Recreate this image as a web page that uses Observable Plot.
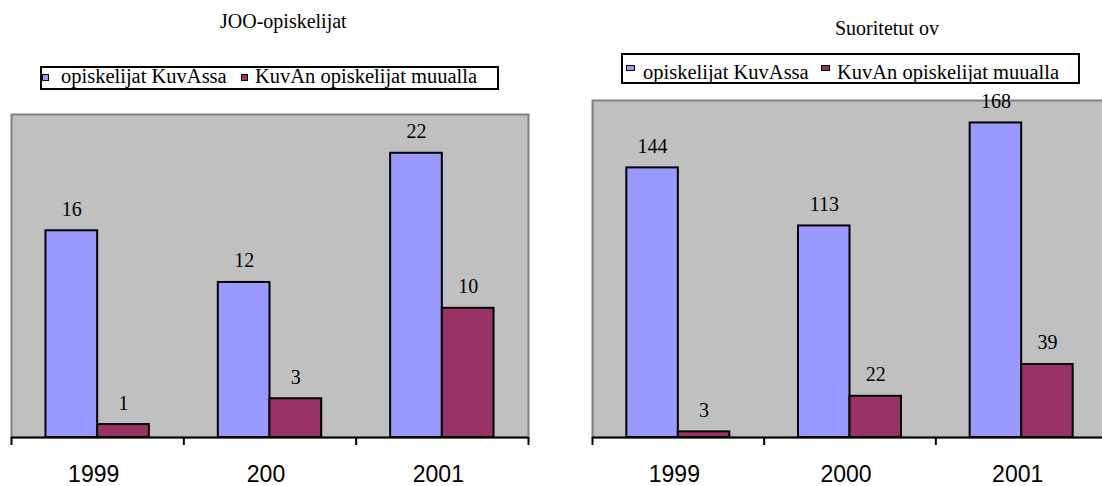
<!DOCTYPE html>
<html><head><meta charset="utf-8">
<script src="https://cdn.jsdelivr.net/npm/d3@7"></script>
<script src="https://cdn.jsdelivr.net/npm/@observablehq/plot@0.6"></script>
<style>
html,body{margin:0;padding:0;background:#fff;overflow:hidden;}
#root{position:relative;width:1102px;height:486px;overflow:hidden;font-family:"Liberation Serif","Times New Roman",serif;color:#000;}
.abs{position:absolute;white-space:nowrap;font-size:20px;line-height:20px;font-family:"Liberation Serif","Times New Roman",serif;}
.lg{font-size:20.5px;}
.box{position:absolute;box-sizing:border-box;border:2px solid #000;background:#fff;}
.mk{position:absolute;box-sizing:border-box;border:1px solid #000;}
.plotwrap{position:absolute;overflow:visible;}
.plotwrap svg{overflow:visible;max-width:none !important;display:block;}
</style></head><body><div id="root"></div>
<script>
const titles = ["JOO-opiskelijat", "Suoritetut ov"];
const seriesNames = ["opiskelijat KuvAssa", "KuvAn opiskelijat muualla"];
const seriesColors = ["#9999ff", "#993366"];
const years1 = ["1999", "200", "2001"];
const years2 = ["1999", "2000", "2001"];
const jooKuvassa = [16, 12, 22];
const jooMuualla = [1, 3, 10];
const ovKuvassa = [144, 113, 168];
const ovMuualla = [3, 22, 39];

const root = document.getElementById("root");

function el(cls, css, text) {
  const d = document.createElement("div");
  d.className = cls;
  Object.assign(d.style, css);
  if (text != null) d.textContent = text;
  root.appendChild(d);
  return d;
}

function rowsOf(years, a, b) {
  const rows = [];
  years.forEach((y, i) => {
    rows.push({i, year: y, j: 0, value: a[i]});
    rows.push({i, year: y, j: 1, value: b[i]});
  });
  return rows;
}

function chart(years, a, b, yMax, geo) {
  const rows = rowsOf(years, a, b);
  const n = years.length;
  const svg = Plot.plot({
    width: geo.width, height: geo.height,
    marginLeft: geo.ml, marginRight: geo.mr, marginTop: geo.mt, marginBottom: geo.mb,
    x: {type: "linear", domain: [0, n], axis: null},
    y: {domain: [0, yMax], axis: null},
    style: {background: "transparent", fontFamily: "Liberation Sans, Arial, sans-serif", fontSize: "23px", color: "#000", maxWidth: "none"},
    marks: [
      Plot.frame({fill: "#c0c0c0", stroke: "#808080", strokeWidth: 2}),
      Plot.rect(rows, {
        x1: d => d.i + 0.2 + 0.3 * d.j,
        x2: d => d.i + 0.5 + 0.3 * d.j,
        y1: 0, y2: "value",
        fill: d => seriesColors[d.j],
        stroke: "#000", strokeWidth: 2
      }),
      Plot.ruleY([0], {stroke: "#000", strokeWidth: 2}),
      Plot.axisX({ticks: d3.range(n + 1), tickSize: 8, tickFormat: () => "", stroke: "#000", strokeWidth: 2}),
      Plot.axisX({
        ticks: d3.range(n).map(i => i + 0.5), tickSize: 0, tickPadding: 28,
        tickFormat: d => years[Math.floor(d)],
        fontSize: 23, fontFamily: "Liberation Sans, Arial, sans-serif", fill: "#000", dx: -4
      }),
      Plot.text(rows, {
        x: d => d.i + 0.35 + 0.3 * d.j,
        y: "value",
        text: d => String(d.value),
        dy: -15, lineAnchor: "bottom",
        fontSize: 20, fontFamily: "Liberation Serif, Times New Roman, serif", fill: "#000"
      })
    ]
  });
  const w = el("plotwrap", {left: geo.left + "px", top: geo.top + "px", width: geo.width + "px", height: geo.height + "px"});
  w.appendChild(svg);
}

// Left panel
el("abs", {left: "220px", top: "11px"}, titles[0]);
el("box", {left: "40px", top: "66px", width: "459px", height: "24px"});
el("mk", {left: "42px", top: "74px", width: "7px", height: "7px", background: seriesColors[0]});
el("abs lg", {left: "61px", top: "66px"}, seriesNames[0]);
el("mk", {left: "241px", top: "74px", width: "7px", height: "7px", background: seriesColors[1]});
el("abs lg", {left: "255px", top: "66px"}, seriesNames[1]);
chart(years1, jooKuvassa, jooMuualla, 25, {left: 0, top: 100, width: 545, height: 386, ml: 11, mr: 17, mt: 14, mb: 49});

// Right panel
el("abs", {left: "835px", top: "18px"}, titles[1]);
el("box", {left: "621px", top: "53px", width: "459px", height: "31px"});
el("mk", {left: "626px", top: "65px", width: "9px", height: "6px", background: seriesColors[0]});
el("abs lg", {left: "643px", top: "62px"}, seriesNames[0]);
el("mk", {left: "821px", top: "65px", width: "9px", height: "6px", background: seriesColors[1]});
el("abs lg", {left: "837px", top: "62px"}, seriesNames[1]);
chart(years2, ovKuvassa, ovMuualla, 180, {left: 551, top: 80, width: 566, height: 406, ml: 41, mr: 10, mt: 20, mb: 49});
</script></body></html>
